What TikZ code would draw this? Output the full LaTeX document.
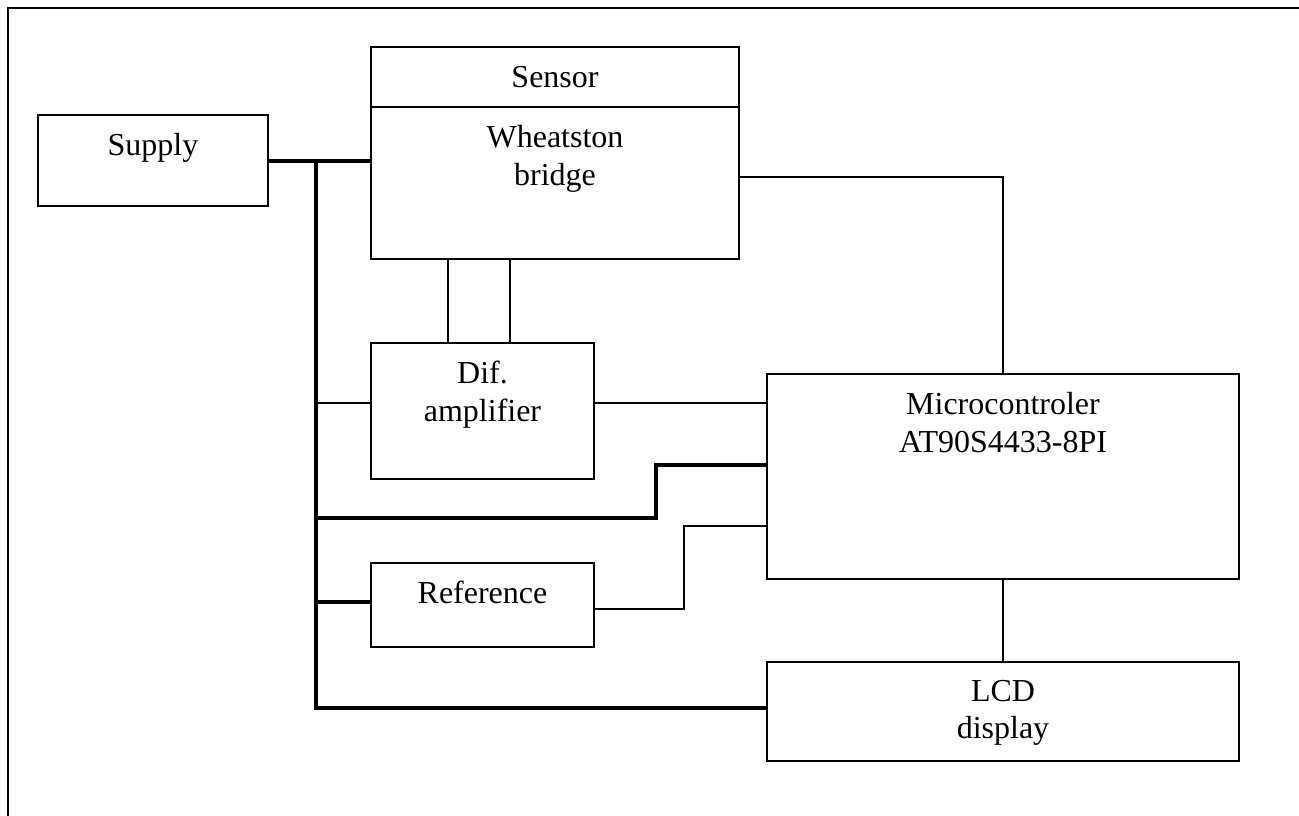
\documentclass[tikz,border=0pt]{standalone}
\usepackage{fontspec}
\setmainfont{Liberation Serif}
\usetikzlibrary{positioning,calc}

\begin{document}
\begin{tikzpicture}[
    blk/.style={draw,line width=1.1pt,inner sep=0pt},
    lbl/.style={anchor=north,align=center,inner sep=0pt,yshift=-0.38cm},
    wire/.style={line width=1.1pt},
    bus/.style={line width=2.5pt},
    font=\fontsize{18.2}{21.3}\selectfont
    ]

    \useasboundingbox (0,0) rectangle (25.98,-16.32);

    % moldura
    \draw[line width=1.3pt] (0.16,-16.32)--(0.16,-0.16)--(25.98,-0.16);

    % blocos
    \node[blk,minimum width=4.6cm,minimum height=1.82cm] (sup) at (3.06,-3.21) {};
    \node[lbl] (tsup) at (sup.north) {Supply};

    \node[blk,minimum width=7.36cm,minimum height=1.2cm] (sen) at (11.10,-1.54) {Sensor};
    \node[blk,minimum width=7.36cm,minimum height=3.04cm] (brg) at (11.10,-3.66) {};
    \node[lbl] (tbrg) at (brg.north) {Wheatston\\bridge};

    \node[blk,minimum width=4.46cm,minimum height=2.72cm] (dif) at (9.65,-8.22) {};
    \node[lbl] (tdif) at (dif.north) {Dif.\\amplifier};

    \node[blk,minimum width=9.44cm,minimum height=4.1cm] (mcu) at (20.06,-9.53) {};
    \node[lbl] (tmcu) at (mcu.north) {Microcontroler\\AT90S4433-8PI};

    \node[blk,minimum width=4.46cm,minimum height=1.68cm] (ref) at (9.65,-12.10) {};
    \node[lbl] (tref) at (ref.north) {Reference};

    \node[blk,minimum width=9.44cm,minimum height=1.98cm] (lcd) at (20.06,-14.23) {};
    \node[lbl] (tlcd) at (lcd.north) {LCD\\display};

    % pontos do barramento
    \coordinate (b0) at (6.32,-3.22);
    \coordinate (b1) at (6.32,-8.06);
    \coordinate (b2) at (6.32,-10.36);
    \coordinate (b3) at (6.32,-12.04);
    \coordinate (b4) at (6.32,-14.16);

    % alimentação
    \draw[bus] (sup.east |- b0)--(brg.west |- b0);
    \draw[bus] (b0)--(b4)--(lcd.west |- b4);
    \draw[bus] (b2)--(13.12,-10.36)--(13.12,-9.30)--(mcu.west |- 0,-9.30);
    \draw[bus] (b3)--(ref.west |- b3);

    % sinais
    \draw[wire] (b1)--(dif.west |- b1);
    \draw[wire] (dif.east |- b1)--(mcu.west |- b1);
    \draw[wire] (brg.south -| 8.96,0)--(dif.north -| 8.96,0);
    \draw[wire] (brg.south -| 10.20,0)--(dif.north -| 10.20,0);
    \draw[wire] (brg.east |- 0,-3.54)--(mcu.north |- 0,-3.54)--(mcu.north);
    \draw[wire] (ref.east |- 0,-12.18)--(13.68,-12.18)--(13.68,-10.52)--(mcu.west |- 0,-10.52);
    \draw[wire] (mcu.south)--(lcd.north);

\end{tikzpicture}
\end{document}
